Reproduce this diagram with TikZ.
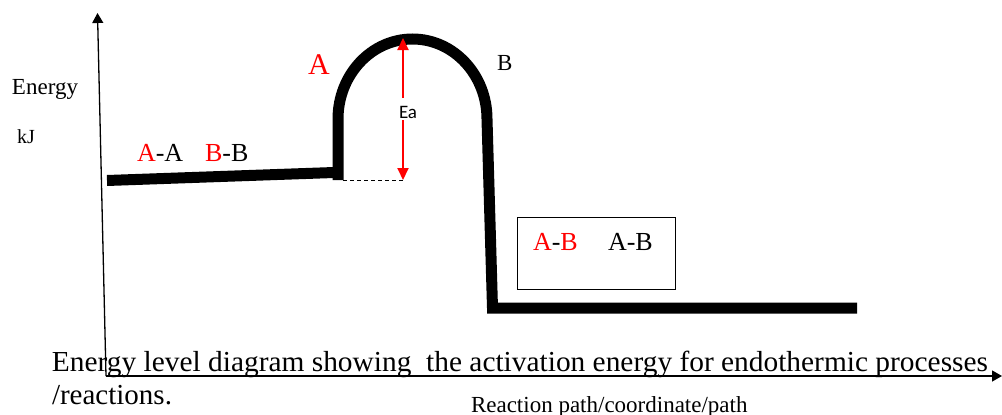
\documentclass[tikz,border=0pt]{standalone}
\usepackage{fontspec}
\setmainfont{Liberation Serif}
\newfontfamily\calibri{Carlito}
\usetikzlibrary{arrows.meta}
\definecolor{pured}{RGB}{255,0,0}
\begin{document}
\begin{tikzpicture}[x=1pt,y=-1pt,
  txt/.style={inner sep=0pt,outer sep=0pt,anchor=base west},
  thick path/.style={line width=11pt,line cap=butt,line join=miter},
  axis/.style={line width=1.3pt,-{Triangle[length=10pt,width=11pt]}},
  ea/.style={pured,line width=2pt,{Triangle[length=12pt,width=11pt]}-{Triangle[length=12pt,width=11pt]}}]
\useasboundingbox (0,0) rectangle (1002,415);
% captions
\node[txt] (cap1) at (52,371) {\resizebox{936pt}{\height}{\fontsize{29}{33}\selectfont Energy level diagram showing\ \ the activation energy for endothermic processes}};
\node[txt] (cap2) at (52,404) {\fontsize{29}{33}\selectfont /reactions.};
\node[txt] (xlab) at (471,412) {\fontsize{23}{26}\selectfont Reaction path/coordinate/path};
% axes
\coordinate (origin) at (106,376);
\coordinate (ytop) at (97.5,13);
\coordinate (xend) at (1002,376);
\draw[axis] (origin) -- (ytop);
\draw[axis] (origin) -- (xend);
\node[txt] (energy) at (12,94.3) {\fontsize{23}{26}\selectfont Energy};
\node[txt] (kj) at (17,143) {\fontsize{20}{24}\selectfont kJ};
% reaction profile
\coordinate (l0) at (107,180.5);
\coordinate (l1) at (334,172.5);
\coordinate (v0) at (338,180);
\coordinate (v1) at (338,119);
\coordinate (r1) at (492.5,308);
\coordinate (r2) at (857,308);
\draw[thick path] (l0) -- (l1);
\draw[thick path] (v0) -- (v1) arc[start angle=180,end angle=0,x radius=74.5,y radius=-80] -- (r1) -- (r2);
% activation energy
\coordinate (dash0) at (343,180);
\coordinate (eabot) at (403,180);
\coordinate (eatop) at (403,38);
\draw[line width=0.9pt,dash pattern=on 4pt off 3pt] (dash0) -- (eabot);
\draw[ea] (eabot) -- (eatop);
\node[inner sep=0pt,fill=white,minimum height=22pt,minimum width=6pt] (eagap) at (403,109) {};
\node[txt] (ealab) at (399,118.7) {\calibri\fontsize{19}{22}\selectfont Ea};
% labels
\node[txt,text=pured] (labA) at (308,74) {\fontsize{30}{34}\selectfont A};
\node[txt] (labB) at (497,70) {\fontsize{23}{26}\selectfont B};
\node[txt] (react1) at (137,161) {\fontsize{26}{30}\selectfont\textcolor{pured}{A}-A};
\node[txt] (react2) at (205,161) {\fontsize{26}{30}\selectfont\textcolor{pured}{B}-B};
% product box
\node[draw,line width=1.2pt,inner sep=0pt,minimum width=158pt,minimum height=72pt,anchor=north west] (box) at (517,217) {};
\node[txt] (prod1) at (533,250) {\fontsize{26}{30}\selectfont\textcolor{pured}{A}-\textcolor{pured}{B}};
\node[txt] (prod2) at (608,250) {\fontsize{26}{30}\selectfont A-B};
\end{tikzpicture}
\end{document}
